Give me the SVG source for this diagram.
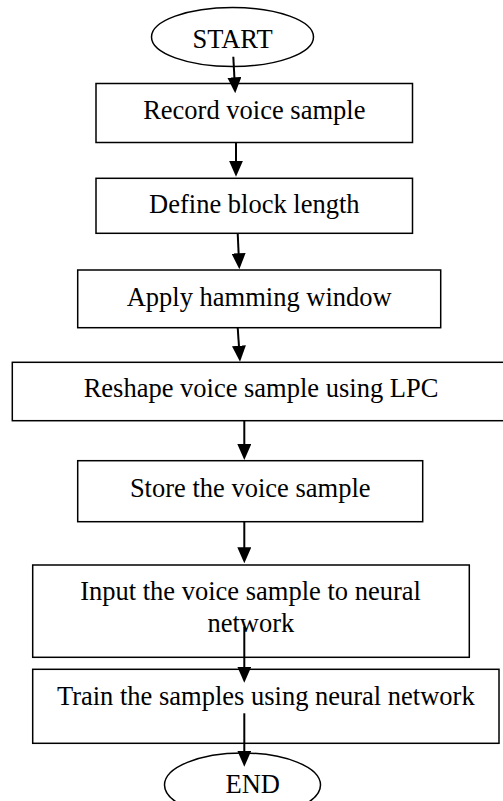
<svg xmlns="http://www.w3.org/2000/svg" width="503" height="801" viewBox="0 0 503 801">
  <style>
    .box { fill: none; stroke: #000; stroke-width: 1.5; }
    .term { fill: none; stroke: #000; stroke-width: 1.5; }
    .lbl { font-family: "Liberation Serif", "Times New Roman", serif; font-size: 26.5px; fill: #000; text-anchor: middle; }
    .flow { fill: none; stroke: #000; stroke-width: 2; marker-end: url(#head); }
  </style>
  <defs>
    <marker id="head" viewBox="0 0 16 14" refX="4" refY="7" markerWidth="16" markerHeight="14" markerUnits="userSpaceOnUse" orient="auto">
      <path d="M0,0 L16,7 L0,14 z" fill="#000"/>
    </marker>
  </defs>
  <rect width="503" height="801" fill="#fff"/>

  <g id="start">
    <ellipse class="term" cx="232.5" cy="37" rx="81" ry="29.5"/>
    <text class="lbl" x="232.5" y="48">START</text>
  </g>
  <g id="record">
    <rect class="box" x="96" y="83.5" width="316.5" height="59"/>
    <text class="lbl" x="254.3" y="119">Record voice sample</text>
  </g>
  <g id="block-length">
    <rect class="box" x="96" y="178.3" width="316.5" height="55"/>
    <text class="lbl" x="254.3" y="213">Define block length</text>
  </g>
  <g id="hamming">
    <rect class="box" x="77.7" y="270" width="363" height="57.7"/>
    <text class="lbl" x="259.2" y="306">Apply hamming window</text>
  </g>
  <g id="lpc">
    <rect class="box" x="12.3" y="362.3" width="497.7" height="58.4"/>
    <text class="lbl" x="261" y="397">Reshape voice sample using LPC</text>
  </g>
  <g id="store">
    <rect class="box" x="77.7" y="460.7" width="345" height="61"/>
    <text class="lbl" x="250.2" y="496.7">Store the voice sample</text>
  </g>
  <g id="input-nn">
    <rect class="box" x="32.7" y="565" width="436.6" height="92.3"/>
    <text class="lbl" x="250.5" y="600">Input the voice sample to neural</text>
    <text class="lbl" x="250.8" y="631.7">network</text>
  </g>
  <g id="train">
    <rect class="box" x="32.7" y="669.3" width="466.3" height="74"/>
    <text class="lbl" x="265.8" y="705">Train the samples using neural network</text>
  </g>
  <g id="end">
    <ellipse class="term" cx="242.5" cy="785" rx="78" ry="32"/>
    <text class="lbl" x="252.7" y="793.3">END</text>
  </g>

  <g id="connectors">
    <path class="flow" d="M233.3,56.7 L234.6,81.3"/>
    <path class="flow" d="M236,142.7 L236,164.7"/>
    <path class="flow" d="M237.7,233.3 L238.8,257.3"/>
    <path class="flow" d="M237.7,327.7 L239.2,349.7"/>
    <path class="flow" d="M244.3,420.7 L244.3,448"/>
    <path class="flow" d="M244.3,521.7 L244.3,551.3"/>
    <path class="flow" d="M244.3,626.7 L244.3,670.7"/>
    <path class="flow" d="M244.3,713.3 L244.3,754.7"/>
  </g>
</svg>
